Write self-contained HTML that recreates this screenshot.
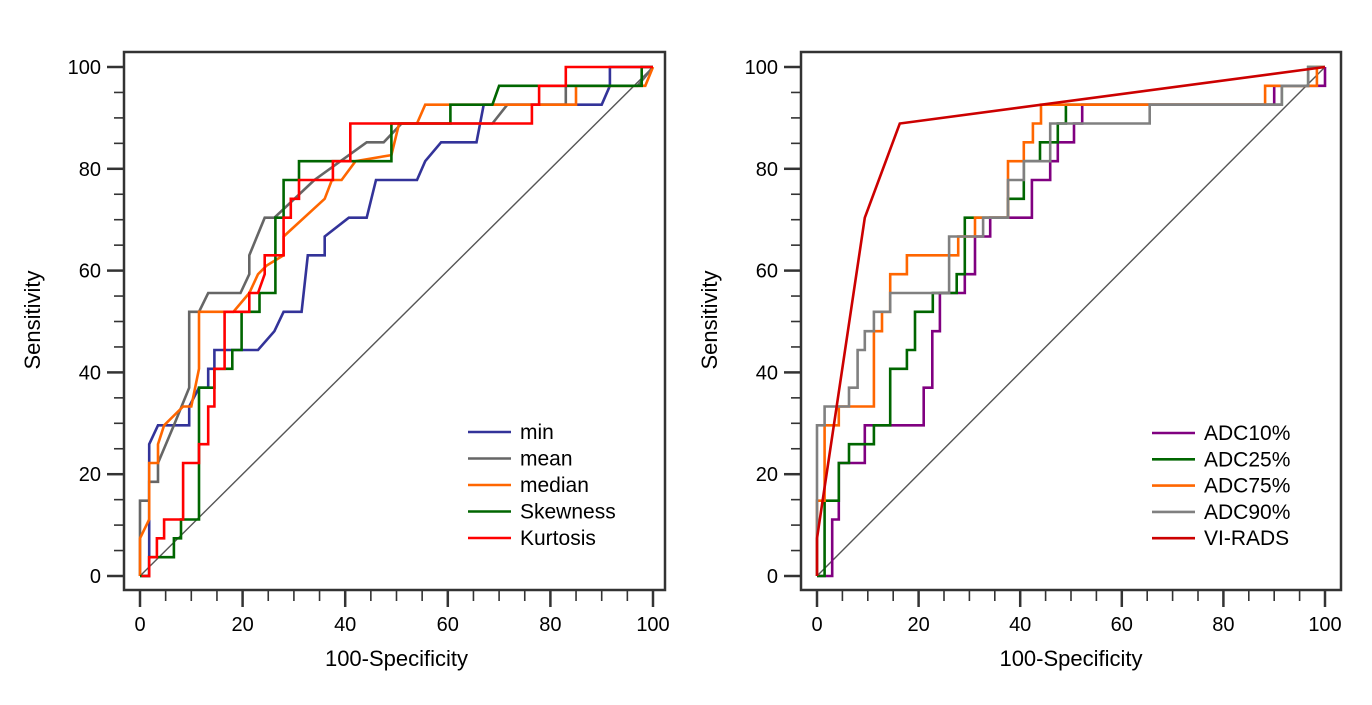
<!DOCTYPE html>
<html><head><meta charset="utf-8"><style>
body{margin:0;background:#fff;}
svg{display:block;font-family:"Liberation Sans",Arial,sans-serif;}
</style></head><body>
<svg id="s" width="1372" height="705" viewBox="0 0 1372 705"></svg>
<script>
// ---- Left panel data ----
const leftNames=["min","mean","median","Skewness","Kurtosis"];
const leftColors=["#333399","#666666","#ff6600","#006600","#ff0000"];
const minX=[0,1.8,1.8,3.5,9.6,9.6,11.5,13.3,13.3,14.5,14.5,23,26.2,28,31.5,32.7,36,36,40.7,44.2,46,54,55.6,58.7,65.6,67,90,91.6,91.6,100];
const minY=[0,0,25.9,29.6,29.6,33.3,37,37,40.7,40.7,44.4,44.4,48.1,51.9,51.9,63,63,66.7,70.4,70.4,77.8,77.8,81.5,85.2,85.2,92.6,92.6,96.3,100,100];
const meanX=[0,0,1.8,1.8,3.5,3.5,6.6,9.6,9.6,11.5,13.3,19.6,21.3,21.3,24.3,26.2,34,44.2,47.5,51,68.7,71.6,83,83,97,100];
const meanY=[0,14.8,14.8,18.5,18.5,22.2,29.6,37,51.9,51.9,55.6,55.6,59.3,63,70.4,70.4,77.8,85.2,85.2,88.9,88.9,92.6,92.6,96.3,96.3,100];
const medX=[0,0,1.8,1.8,3.5,3.5,4.7,8.4,10,11.5,11.5,18.2,21.3,23,24.7,28,28,36,37.4,39.3,42,49,50.5,54,55.6,85,85,98.5,100];
const medY=[0,7.4,11.1,22.2,22.2,25.9,29.6,33.3,33.3,40.7,51.9,51.9,55.6,59.3,61,63,66.7,74.1,77.8,77.8,81.5,82.7,88.9,88.9,92.6,92.6,96.3,96.3,100];
const skewX=[0,1.8,1.8,6.6,6.6,8,8,11.5,11.5,14.5,14.5,18,18,19.8,19.8,23.3,23.3,26.4,26.4,28,28,31,31,49,49,60.5,60.5,68.7,70,97.8,97.8,100];
const skewY=[0,0,3.7,3.7,7.4,7.4,11.1,11.1,37,37,40.7,40.7,44.4,44.4,51.9,51.9,55.6,55.6,70.4,70.4,77.8,77.8,81.5,81.5,88.9,88.9,92.6,92.6,96.3,96.3,100,100];
const kurX=[0.3,1.8,1.8,3.3,3.3,4.7,4.7,8.4,8.4,11.5,11.5,13.3,13.3,14.5,14.5,16.5,16.5,21.3,21.3,23,24.3,24.3,28,28,29.4,29.4,31,31,37.6,37.6,41,41,76.4,76.4,77.8,77.8,83,83,100];
const kurY=[0,0,3.7,3.7,7.4,7.4,11.1,11.1,22.2,22.2,25.9,25.9,33.3,33.3,40.7,40.7,51.9,51.9,55.6,55.6,59.3,63,63,70.4,70.4,74.1,74.1,77.8,77.8,81.5,81.5,88.9,88.9,92.6,92.6,96.3,96.3,100,100];
// ---- Right panel data ----
const rightNames=["ADC10%","ADC25%","ADC75%","ADC90%","VI-RADS"];
const rightColors=["#800080","#006600","#ff6600","#808080","#cc0000"];
const a10X=[0,3,3,4.3,4.3,9.4,9.4,21,21,22.7,22.7,24.2,24.2,29.1,29.1,31.1,31.1,34.1,34.1,42.3,42.3,45.9,45.9,47.4,47.4,50.6,50.6,52.2,52.2,90,90,100,100];
const a10Y=[0,0,11.1,11.1,22.2,22.2,29.6,29.6,37,37,48.1,48.1,55.6,55.6,59.3,59.3,66.7,66.7,70.4,70.4,77.8,77.8,81.5,81.5,85.2,85.2,88.9,88.9,92.6,92.6,96.3,96.3,100];
const a25X=[0,1.5,1.5,4.3,4.3,6.3,6.3,11.2,11.2,14.4,14.4,17.7,17.7,19.3,19.3,22.8,22.8,27.5,27.5,29.1,29.1,37.6,37.6,40.7,40.7,43.9,43.9,47.4,47.4,49,49,91.5,91.5,96.7,96.7,100];
const a25Y=[0,0,14.8,14.8,22.2,22.2,25.9,25.9,29.6,29.6,40.7,40.7,44.4,44.4,51.9,51.9,55.6,55.6,59.3,59.3,70.4,70.4,74.1,74.1,81.5,81.5,85.2,85.2,88.9,88.9,92.6,92.6,96.3,96.3,100,100];
const a75X=[0,0,1.5,1.5,4.3,4.3,11.2,11.2,12.8,12.8,14.4,14.4,17.7,17.7,27.8,27.8,31.1,31.1,37.6,37.6,40.7,40.7,42.5,42.5,44.1,44.1,88.2,88.2,98.4,98.4,100];
const a75Y=[0,14.8,14.8,29.6,29.6,33.3,33.3,48.1,48.1,51.9,51.9,59.3,59.3,63,63,66.7,66.7,70.4,70.4,81.5,81.5,85.2,85.2,88.9,88.9,92.6,92.6,96.3,96.3,100,100];
const a90X=[0,0,1.5,1.5,6.3,6.3,8,8,9.4,9.4,11.2,11.2,14.4,14.4,26,26,32.7,32.7,37.6,37.6,40.7,40.7,45.9,45.9,65.5,65.5,91.5,91.5,96.7,96.7,100];
const a90Y=[0,29.6,29.6,33.3,33.3,37,37,44.4,44.4,48.1,48.1,51.9,51.9,55.6,55.6,66.7,66.7,70.4,70.4,77.8,77.8,81.5,81.5,88.9,88.9,92.6,92.6,96.3,96.3,100,100];
const viX=[0,0,9.4,16.3,100];
const viY=[0,7.4,70.4,88.9,100];
const tickVals=[0,20,40,60,80,100];

const NS="http://www.w3.org/2000/svg";
const svg=document.getElementById('s');
function mk(tag,attrs,parent){const e=document.createElementNS(NS,tag);for(const k in attrs)e.setAttribute(k,attrs[k]);(parent||svg).appendChild(e);return e;}

function panel(P){
  const g=mk('g',{});
  
  
  const sx=v=>P.x0+v*(P.x100-P.x0)/100;
  const sy=v=>P.y0+v*(P.y100-P.y0)/100;
  const frame=mk('rect',{x:P.fl,y:52,width:P.fr-P.fl,height:538,fill:'none',stroke:'#333',"stroke-width":2.5},g);
  
  
  for(let v=0;v<=100;v+=5){
    const maj=v%20===0;
    const xt=mk('line',{x1:sx(v),x2:sx(v),y1:591,y2:maj?607:601,stroke:'#333',"stroke-width":maj?2.5:1.6},g);
    
    
    const yt=mk('line',{y1:sy(v),y2:sy(v),x1:P.fl-1,x2:maj?P.fl-17:P.fl-10,stroke:'#333',"stroke-width":maj?2.5:1.6},g);
    
    
  }
  tickVals.forEach(v=>{
    const t=mk('text',{x:sx(v),y:631,"text-anchor":"middle","font-size":20,fill:'#000'},g);t.textContent=v;
    
    
    const u=mk('text',{x:P.fl-23,y:sy(v)+7,"text-anchor":"end","font-size":20,fill:'#000'},g);u.textContent=v;
    
    
  });
  const xt=mk('text',{x:(sx(0)+sx(100))/2,y:666,"text-anchor":"middle","font-size":22},g);xt.textContent='100-Specificity';
  
  
  const yx=P.fl-84;
  const yt=mk('text',{x:yx,y:320,"text-anchor":"middle","font-size":22,transform:`rotate(-90 ${yx} 320)`},g);yt.textContent='Sensitivity';
  
  
  const d=mk('line',{x1:sx(0),y1:sy(0),x2:sx(100),y2:sy(100),stroke:'#555',"stroke-width":1.4},g);
  
  
  P.series.forEach((s,i)=>{
    const pts=s.xs.map((x,j)=>sx(x).toFixed(1)+','+sy(s.ys[j]).toFixed(1)).join(' ');
    const pl=mk('polyline',{points:pts,fill:'none',stroke:P.colors[i],"stroke-width":2.6,"stroke-linejoin":"miter"},g);
    
    
  });
  P.names.forEach((n,i)=>{
    const y=P.ly+i*P.lstep;
    const ln=mk('line',{x1:P.lx,x2:P.lx+43,y1:y,y2:y,stroke:P.colors[i],"stroke-width":2.6},g);
    
    
    const t=mk('text',{x:P.lx+52,y:y+7,"font-size":21},g);t.textContent=n;
    
    
  });
}
panel({id:'left-roc-chart',fl:124,fr:665,x0:140,x100:653,y0:576,y100:67,names:leftNames,colors:leftColors,
  series:[{xs:minX,ys:minY},{xs:meanX,ys:meanY},{xs:medX,ys:medY},{xs:skewX,ys:skewY},{xs:kurX,ys:kurY}],lx:468,ly:432,lstep:26.5});
panel({id:'right-roc-chart',fl:801,fr:1341,x0:817,x100:1325,y0:576,y100:67,names:rightNames,colors:rightColors,
  series:[{xs:a10X,ys:a10Y},{xs:a25X,ys:a25Y},{xs:a75X,ys:a75Y},{xs:a90X,ys:a90Y},{xs:viX,ys:viY}],lx:1152,ly:433,lstep:26.3});
</script>
</body></html>
